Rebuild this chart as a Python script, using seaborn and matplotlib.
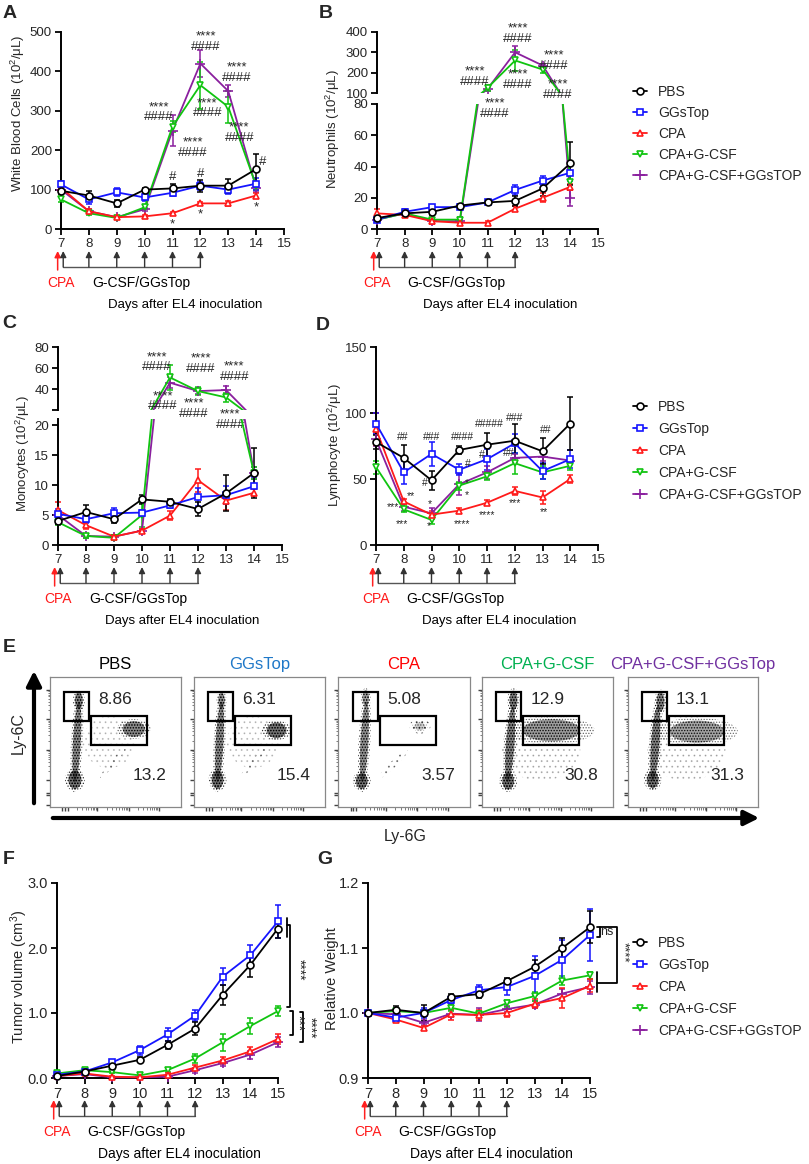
import matplotlib
matplotlib.use('Agg')
import numpy as np
import pandas as pd
import matplotlib.pyplot as plt
import matplotlib.transforms as mtransforms
from matplotlib.lines import Line2D
from matplotlib.patches import Rectangle, Ellipse
import seaborn as sns

# Grupper och stil
GROUPS = ['PBS', 'GGsTop', 'CPA', 'CPA+G-CSF', 'CPA+G-CSF+GGsTOP']
COLORS = {'PBS': '#000000', 'GGsTop': '#1515ff', 'CPA': '#ff1a1a',
          'CPA+G-CSF': '#10c410', 'CPA+G-CSF+GGsTOP': '#8a1f9e'}
MARKERS = {'PBS': 'o', 'GGsTop': 's', 'CPA': '^', 'CPA+G-CSF': 'v', 'CPA+G-CSF+GGsTOP': '+'}
DRAW_ORDER = ['CPA+G-CSF+GGsTOP', 'CPA+G-CSF', 'CPA', 'GGsTop', 'PBS']

DAYS_BLOOD = [7, 8, 9, 10, 11, 12, 13, 14]
DAYS_TUMOR = [7, 8, 9, 10, 11, 12, 13, 14, 15]
TREAT_DAYS = [7, 8, 9, 10, 11, 12]
CPA_DAY = 7

# A - vita blodkroppar
wbc_pbs = [97, 85, 65, 100, 103, 110, 110, 152]
wbc_gg = [113, 75, 93, 80, 92, 110, 100, 115]
wbc_cpa = [105, 45, 30, 32, 40, 65, 65, 85]
wbc_gcsf = [75, 40, 28, 55, 260, 365, 310, 110]
wbc_gcsf_gg = [100, 45, 30, 50, 250, 420, 350, 105]
wbc_pbs_err = [8, 12, 8, 5, 10, 15, 18, 38]
wbc_gg_err = [10, 12, 10, 8, 8, 10, 10, 15]
wbc_cpa_err = [5, 5, 3, 4, 4, 4, 6, 6]
wbc_gcsf_err = [6, 4, 3, 5, 15, 60, 40, 10]
wbc_gcsf_gg_err = [5, 5, 3, 4, 40, 35, 15, 10]

# B - neutrofiler
neu_pbs = [7, 10, 11, 15, 17, 18, 26, 42]
neu_gg = [6, 11, 14, 14, 17, 25, 31, 36]
neu_cpa = [10, 9, 5, 4, 4, 13, 20, 27]
neu_gcsf = [6, 10, 6, 6, 125, 260, 215, 30]
neu_gcsf_gg = [6, 10, 5, 5, 120, 300, 235, 20]
neu_pbs_err = [2, 1.5, 2, 1, 1, 3, 5, 14]
neu_gg_err = [1.5, 1.5, 1.5, 1.5, 1, 3, 3, 5]
neu_cpa_err = [3, 1.5, 1.5, 1.5, 1, 1.5, 3, 2]
neu_gcsf_err = [1, 1, 1, 1.5, 15, 50, 15, 5]
neu_gcsf_gg_err = [1, 1, 1, 1, 10, 30, 10, 5]

# C - monocyter
mon_pbs = [4, 5.5, 4.3, 7.6, 7.2, 6, 8.6, 12]
mon_gg = [5.2, 4.3, 5.3, 5.4, 6.6, 8, 8.3, 9.8]
mon_cpa = [5.8, 3.3, 1.4, 2.4, 4.9, 10.8, 7.4, 8.7]
mon_gcsf = [3.8, 1.5, 1.2, 5, 51, 38, 32, 12]
mon_gcsf_gg = [5, 1.5, 1.4, 2.4, 46, 38, 39, 12]
mon_pbs_err = [0.5, 1.1, 0.6, 0.8, 0.5, 1.2, 3, 4.2]
mon_gg_err = [0.8, 0.6, 0.8, 0.5, 0.5, 1.5, 1.5, 1.5]
mon_cpa_err = [1.3, 0.6, 0.3, 0.3, 0.8, 1.9, 1.5, 0.6]
mon_gcsf_err = [0.4, 0.3, 0.3, 2, 12, 4, 4, 1]
mon_gcsf_gg_err = [0.4, 0.3, 0.3, 0.3, 5, 3, 4, 1]

# D - lymfocyter
lym_pbs = [78, 66, 49, 72, 76, 79, 71, 92]
lym_gg = [92, 55, 69, 57, 65, 77, 56, 65]
lym_cpa = [88, 33, 23, 26, 32, 41, 36, 50]
lym_gcsf = [59, 27, 19, 45, 52, 62, 55, 60]
lym_gcsf_gg = [80, 29, 24, 46, 55, 66, 67, 64]
lym_pbs_err = [5, 10, 7, 3, 9, 13, 10, 20]
lym_gg_err = [8, 9, 9, 4, 8, 7, 6, 7]
lym_cpa_err = [12, 2, 3, 2, 2, 3, 5, 3]
lym_gcsf_err = [5, 2, 3, 3, 3, 8, 5, 3]
lym_gcsf_gg_err = [5, 3, 4, 8, 5, 3, 3, 3]

# F - tumörvolym
tum_pbs = [0.03, 0.10, 0.19, 0.28, 0.51, 0.76, 1.28, 1.74, 2.30]
tum_gg = [0.05, 0.10, 0.24, 0.43, 0.67, 0.96, 1.56, 1.89, 2.41]
tum_cpa = [0.03, 0.07, 0.02, 0.01, 0.05, 0.16, 0.27, 0.41, 0.60]
tum_gcsf = [0.07, 0.12, 0.09, 0.04, 0.12, 0.30, 0.55, 0.80, 1.03]
tum_gcsf_gg = [0.03, 0.06, 0.01, 0.01, 0.02, 0.12, 0.23, 0.36, 0.55]
tum_pbs_err = [0.02, 0.03, 0.03, 0.04, 0.06, 0.10, 0.15, 0.18, 0.15]
tum_gg_err = [0.02, 0.03, 0.04, 0.07, 0.10, 0.08, 0.13, 0.15, 0.25]
tum_cpa_err = [0.01, 0.02, 0.01, 0.01, 0.02, 0.04, 0.05, 0.06, 0.07]
tum_gcsf_err = [0.02, 0.03, 0.02, 0.02, 0.03, 0.07, 0.13, 0.12, 0.08]
tum_gcsf_gg_err = [0.01, 0.02, 0.01, 0.01, 0.02, 0.04, 0.05, 0.06, 0.08]

# G - relativ vikt
wt_pbs = [1.0, 1.005, 1.0, 1.025, 1.029, 1.049, 1.071, 1.10, 1.132]
wt_gg = [1.0, 0.993, 1.0, 1.02, 1.035, 1.04, 1.057, 1.082, 1.12]
wt_cpa = [1.0, 0.99, 0.977, 0.998, 0.997, 1.0, 1.014, 1.023, 1.042]
wt_gcsf = [1.0, 1.003, 1.0, 1.008, 0.999, 1.015, 1.026, 1.05, 1.058]
wt_gcsf_gg = [1.0, 0.998, 0.985, 0.999, 0.997, 1.006, 1.013, 1.03, 1.04]
wt_pbs_err = [0, 0.006, 0.012, 0.004, 0.006, 0.005, 0.01, 0.015, 0.025]
wt_gg_err = [0, 0.004, 0.008, 0.006, 0.008, 0.012, 0.03, 0.03, 0.04]
wt_cpa_err = [0, 0.004, 0.003, 0.008, 0.008, 0.006, 0.007, 0.015, 0.01]
wt_gcsf_err = [0, 0.004, 0.005, 0.005, 0.003, 0.005, 0.007, 0.007, 0.005]
wt_gcsf_gg_err = [0, 0.003, 0.004, 0.005, 0.01, 0.005, 0.006, 0.007, 0.01]

# E - flödescytometri
FLOW_TITLES = ['PBS', 'GGsTop', 'CPA', 'CPA+G-CSF', 'CPA+G-CSF+GGsTop']
FLOW_TITLE_COLORS = ['#000000', '#1f78c8', '#ff0000', '#00b050', '#7030a0']
FLOW_UPPER = ['8.86', '6.31', '5.08', '12.9', '13.1']
FLOW_LOWER = ['13.2', '15.4', '3.57', '30.8', '31.3']
# populationer: (cx, cy, bredd, höjd, vinkel, täthet, typ) - 'c' tät kärna, 's' glest moln
FLOW_POPS = [
    [(0.19, 0.21, 0.10, 0.14, 0, 1.0, 'c'), (0.205, 0.50, 0.06, 0.62, -3, 0.85, 'c'),
     (0.22, 0.82, 0.06, 0.13, 0, 0.9, 'c'), (0.64, 0.60, 0.17, 0.12, 0, 0.85, 'c'),
     (0.48, 0.34, 0.30, 0.04, 50, 0.5, 's'), (0.45, 0.50, 0.40, 0.40, 0, 0.25, 's')],
    [(0.18, 0.21, 0.09, 0.14, 0, 1.0, 'c'), (0.195, 0.50, 0.06, 0.62, -3, 0.85, 'c'),
     (0.21, 0.82, 0.05, 0.12, 0, 0.8, 'c'), (0.63, 0.59, 0.15, 0.12, 0, 1.0, 'c'),
     (0.45, 0.34, 0.30, 0.04, 50, 0.5, 's'), (0.45, 0.50, 0.40, 0.40, 0, 0.25, 's')],
    [(0.18, 0.20, 0.09, 0.12, 0, 1.0, 'c'), (0.20, 0.50, 0.06, 0.62, -3, 0.8, 'c'),
     (0.21, 0.84, 0.05, 0.12, 0, 0.7, 'c'), (0.62, 0.62, 0.16, 0.11, 0, 0.8, 's'),
     (0.62, 0.62, 0.08, 0.06, 0, 0.35, 'c'), (0.42, 0.33, 0.30, 0.05, 45, 0.6, 's')],
    [(0.20, 0.20, 0.09, 0.13, 0, 1.0, 'c'), (0.215, 0.48, 0.065, 0.58, -4, 0.9, 'c'),
     (0.24, 0.82, 0.06, 0.15, 0, 0.95, 'c'), (0.53, 0.59, 0.44, 0.17, 0, 0.7, 'c'),
     (0.45, 0.45, 0.60, 0.50, 0, 0.3, 's')],
    [(0.19, 0.21, 0.09, 0.13, 0, 1.0, 'c'), (0.21, 0.49, 0.065, 0.58, -4, 0.9, 'c'),
     (0.25, 0.81, 0.06, 0.15, 0, 0.9, 'c'), (0.53, 0.58, 0.42, 0.17, 0, 0.65, 'c'),
     (0.45, 0.45, 0.60, 0.50, 0, 0.3, 's')],
]

W, H = 809, 1164

sns.set_theme(style='ticks')
plt.rcParams['font.family'] = ['Liberation Sans', 'DejaVu Sans']
plt.rcParams['mathtext.fontset'] = 'custom'
plt.rcParams['mathtext.rm'] = 'Liberation Sans'
plt.rcParams['mathtext.default'] = 'regular'
plt.rcParams['hatch.linewidth'] = 0.6

fig = plt.figure(figsize=(W / 100, H / 100), dpi=100)
fig.patch.set_facecolor('white')

# overlay i pixelkoordinater för text och pilar
over = fig.add_axes([0, 0, 1, 1])
over.set_xlim(0, W)
over.set_ylim(H, 0)
over.axis('off')


def add_ax(l, t, r, b):
    return fig.add_axes([l / W, 1 - b / H, (r - l) / W, (b - t) / H])


def series(p, s, c, gc, gcg):
    return dict(zip(GROUPS, [p, s, c, gc, gcg]))


def draw_lines(ax, days, means, errs, clip=None):
    for g in DRAW_ORDER:
        c = COLORS[g]
        ms = 7 if g == 'CPA+G-CSF+GGsTOP' else 5
        sns.lineplot(x=days, y=means[g], ax=ax, color=c, marker=MARKERS[g],
                     markersize=ms, mfc='white', mec=c, mew=1.2, linewidth=1.3,
                     errorbar=None, legend=False, sort=False)
        line = ax.lines[-1]
        line.set_zorder(3)
        eb = ax.errorbar(days, means[g], yerr=errs[g], fmt='none', ecolor=c,
                         elinewidth=1.1, capsize=2.5, capthick=1.1, zorder=2)
        arts = [line] + list(eb.lines[1]) + list(eb.lines[2])
        for a in arts:
            if clip is None:
                a.set_clip_on(False)
            else:
                rect = Rectangle((-0.06, clip[0]), 1.12, clip[1] - clip[0], transform=ax.transAxes)
                a.set_clip_path(rect)


def style_ax(ax, ylim, yticks, ylabels=None, size=9.5, show_x=True, fmt=None):
    ax.set_xlim(7, 15)
    ax.set_ylim(*ylim)
    for s in ['top', 'right']:
        ax.spines[s].set_visible(False)
    for s in ['left', 'bottom']:
        ax.spines[s].set_linewidth(1.4)
        ax.spines[s].set_color('black')
    ax.set_facecolor('none')
    ax.tick_params(length=4.5, width=1.3, labelsize=size, pad=2, color='black', direction='out')
    ax.set_xticks(range(7, 16))
    ax.set_yticks(yticks)
    if ylabels is not None:
        ax.set_yticklabels(ylabels)
    elif fmt is not None:
        ax.set_yticklabels([fmt % v for v in yticks])
    if not show_x:
        ax.spines['bottom'].set_visible(False)
        ax.tick_params(axis='x', bottom=False, labelbottom=False)
    ax.set_xlabel('')
    ax.set_ylabel('')


def schedule(ax, yb, days_size=9.5):
    tr = mtransforms.blended_transform_factory(ax.transData, over.transData)
    tip, base = yb + 22, yb + 38
    over.annotate('', xy=(CPA_DAY - 0.12, tip), xytext=(CPA_DAY - 0.12, base + 3),
                  xycoords=tr, textcoords=tr,
                  arrowprops=dict(arrowstyle='-|>', color='#ff2020', lw=1.1, mutation_scale=9,
                                  shrinkA=0, shrinkB=0))
    for i, d in enumerate(TREAT_DAYS):
        x = d + 0.08 if i == 0 else d
        over.annotate('', xy=(x, tip), xytext=(x, base), xycoords=tr, textcoords=tr,
                      arrowprops=dict(arrowstyle='-|>', color='#333333', lw=1.0,
                                      mutation_scale=9, shrinkA=0, shrinkB=0))
    over.plot([TREAT_DAYS[0] + 0.08, TREAT_DAYS[-1]], [base, base], transform=tr,
              color='#555555', lw=1.0, clip_on=False)
    over.text(7.0, yb + 54, 'CPA', transform=tr, color='#ff1a1a', fontsize=10,
              ha='center', va='center')
    over.text(9.87, yb + 54, 'G-CSF/GGsTop', transform=tr, color='black', fontsize=10,
              ha='center', va='center')
    over.text(11.45, yb + 76, 'Days after EL4 inoculation', transform=tr, color='black',
              fontsize=days_size, ha='center', va='center')


def annot(ax, items, size=9.5, ls=0.8):
    # stjärnor och brädgårdar staplade i en och samma text
    for s, x, y in items:
        ax.text(x, y, s, ha='center', va='center', fontsize=size, clip_on=False,
                linespacing=ls)


def legend(ax, x, y, spacing):
    handles = [Line2D([], [], color=COLORS[g], marker=MARKERS[g], mfc='white', mec=COLORS[g],
                      mew=1.2, lw=1.3, ms=7 if g == 'CPA+G-CSF+GGsTOP' else 5) for g in GROUPS]
    ax.legend(handles, GROUPS, loc='upper left', bbox_to_anchor=(x / W, 1 - y / H),
              bbox_transform=fig.transFigure, frameon=False, fontsize=10, handlelength=1.0,
              handletextpad=0.8, labelspacing=spacing, borderpad=0, borderaxespad=0)


def ylab(x, y, s, size=9.5):
    over.text(x, y, s, rotation=90, ha='center', va='center', fontsize=size)


UNIT = ' (10$^2$/μL)'
SH = '****\n####'

# ---- A ----
axA = add_ax(61, 32, 284, 229)
draw_lines(axA, DAYS_BLOOD, series(wbc_pbs, wbc_gg, wbc_cpa, wbc_gcsf, wbc_gcsf_gg),
           series(wbc_pbs_err, wbc_gg_err, wbc_cpa_err, wbc_gcsf_err, wbc_gcsf_gg_err))
style_ax(axA, (0, 500), [0, 100, 200, 300, 400, 500])
ylab(18, 113, 'White Blood Cells' + UNIT)
schedule(axA, 229)
annot(axA, [(SH, 10.5, 296), (SH, 11.72, 206), (SH, 12.2, 476), (SH, 12.25, 307),
            (SH, 13.3, 396), (SH, 13.4, 245),
            ('#', 11.0, 132), ('#', 12.0, 140), ('#', 14.25, 170),
            ('*', 11.0, 12), ('*', 12.0, 37), ('*', 14.0, 55)])

# ---- B (bruten axel) ----
neu_m = series(neu_pbs, neu_gg, neu_cpa, neu_gcsf, neu_gcsf_gg)
neu_e = series(neu_pbs_err, neu_gg_err, neu_cpa_err, neu_gcsf_err, neu_gcsf_gg_err)
axB1 = add_ax(377, 32, 598, 93)
axB2 = add_ax(377, 104, 598, 229)
draw_lines(axB1, DAYS_BLOOD, neu_m, neu_e, clip=(0, 1.2))
draw_lines(axB2, DAYS_BLOOD, neu_m, neu_e, clip=(-0.1, 1))
style_ax(axB1, (100, 400), [100, 200, 300, 400], show_x=False)
style_ax(axB2, (0, 80), [0, 20, 40, 60, 80])
ylab(333, 129, 'Neutrophils' + UNIT)
schedule(axB2, 229)
legend(axB2, 633, 85, 0.5)
annot(axB1, [(SH, 10.55, 180), (SH, 12.1, 393), (SH, 12.1, 164), (SH, 13.4, 260),
             (SH, 13.55, 117)])
annot(axB2, [(SH, 11.27, 77)])

# ---- C (bruten axel) ----
mon_m = series(mon_pbs, mon_gg, mon_cpa, mon_gcsf, mon_gcsf_gg)
mon_e = series(mon_pbs_err, mon_gg_err, mon_cpa_err, mon_gcsf_err, mon_gcsf_gg_err)
axC1 = add_ax(58, 347, 282, 410)
axC2 = add_ax(58, 419, 282, 545)
draw_lines(axC1, DAYS_BLOOD, mon_m, mon_e, clip=(0, 1.2))
draw_lines(axC2, DAYS_BLOOD, mon_m, mon_e, clip=(-0.1, 1))
style_ax(axC1, (20, 80), [20, 40, 60, 80], ylabels=['', '40', '60', '80'], show_x=False)
style_ax(axC2, (0, 21), [0, 5, 10, 15, 20])
ylab(23, 454, 'Monocytes' + UNIT)
schedule(axC2, 545)
annot(axC1, [(SH, 10.54, 65.5), (SH, 10.75, 28.5), (SH, 12.1, 64), (SH, 11.85, 21),
             (SH, 13.3, 56.5), (SH, 13.15, 10.5)])

# ---- D ----
axD = add_ax(376, 347, 598, 545)
draw_lines(axD, DAYS_BLOOD, series(lym_pbs, lym_gg, lym_cpa, lym_gcsf, lym_gcsf_gg),
           series(lym_pbs_err, lym_gg_err, lym_cpa_err, lym_gcsf_err, lym_gcsf_gg_err))
style_ax(axD, (0, 150), [0, 50, 100, 150])
ylab(335, 445, 'Lymphocyte' + UNIT)
schedule(axD, 545)
legend(axD, 633, 400, 0.58)
annot(axD, [('##', 7.97, 82), ('###', 9.0, 82), ('####', 10.1, 82), ('#####', 11.1, 92),
            ('###', 12.0, 96), ('##', 13.1, 87), ('#', 8.75, 47), ('#', 10.3, 61),
            ('#', 10.8, 68), ('##', 11.8, 70),
            ('**', 8.25, 37), ('***', 7.6, 29), ('***', 7.95, 16), ('*', 8.95, 31), ('*', 8.9, 14),
            ('*', 10.28, 47), ('*', 10.28, 38), ('****', 10.1, 16), ('****', 11.0, 23),
            ('***', 12.0, 32), ('**', 13.05, 25)], size=7.5)

# ---- E ----
FLOW_BOXES = [(50, 181), (194, 325), (338, 470), (482, 613), (628, 758)]
for i, (l, r) in enumerate(FLOW_BOXES):
    ax = add_ax(l, 677, r, 807)
    ax.set_xlim(0, 1)
    ax.set_ylim(0, 1)
    ax.set_facecolor('white')
    for s in ax.spines.values():
        s.set_color('#888888')
        s.set_linewidth(0.9)
    for cx, cy, w, h, ang, dens, kind in FLOW_POPS[i]:
        if kind == 's':
            ax.add_patch(Ellipse((cx, cy), w, h, angle=ang, fc='none',
                                 ec=(0.2, 0.2, 0.2, dens), hatch='...', lw=0))
            continue
        ax.add_patch(Ellipse((cx, cy), w * 1.5, h * 1.25, angle=ang, fc='none',
                             ec=(0, 0, 0, min(1, dens * 0.8)), hatch='......', lw=0))
        ax.add_patch(Ellipse((cx, cy), w, h, angle=ang, fc=(0.08, 0.08, 0.08, dens * 0.6), lw=0))
        ax.add_patch(Ellipse((cx, cy), w, h, angle=ang, fc='none', ec=(0, 0, 0, dens),
                             hatch='......', lw=0))
    ax.add_patch(Rectangle((0.11, 0.665), 0.19, 0.22, fc='none', ec='black', lw=1.6))
    ax.add_patch(Rectangle((0.315, 0.477), 0.425, 0.223, fc='none', ec='black', lw=1.6))
    ax.text(0.50, 0.83, FLOW_UPPER[i], fontsize=12.5, ha='center', va='center')
    ax.text(0.76, 0.24, FLOW_LOWER[i], fontsize=12.5, ha='center', va='center')
    ymaj = [0.013, 0.09, 0.105, 0.206, 0.44, 0.675, 0.90]
    ax.set_yticks(ymaj)
    ax.set_yticks([a + (b - a) * np.log10(k) for a, b in [(0.206, 0.44), (0.44, 0.675), (0.675, 0.9)]
                   for k in range(2, 10)], minor=True)
    xmaj = [0.095, 0.115, 0.14, 0.36, 0.6, 0.83]
    ax.set_xticks(xmaj)
    ax.set_xticks([a + (b - a) * np.log10(k) for a, b in [(0.14, 0.36), (0.36, 0.6), (0.6, 0.83)]
                   for k in range(2, 10)], minor=True)
    ax.tick_params(which='major', length=3, width=1.0, color='#444444', labelleft=False, labelbottom=False)
    ax.tick_params(which='minor', length=1.8, width=0.6, color='#666666')
    ax.set_title(FLOW_TITLES[i], color=FLOW_TITLE_COLORS[i], fontsize=12, pad=6)

over.annotate('', xy=(34, 668), xytext=(34, 806),
              arrowprops=dict(arrowstyle='-|>', color='black', lw=3, mutation_scale=22))
over.annotate('', xy=(762, 818), xytext=(50, 818),
              arrowprops=dict(arrowstyle='-|>', color='black', lw=3, mutation_scale=22))
over.text(18, 733, 'Ly-6C', rotation=90, ha='center', va='center', fontsize=11.5)
over.text(405, 836, 'Ly-6G', ha='center', va='center', fontsize=11.5)

# ---- F ----
axF = add_ax(57, 883, 278, 1078)
draw_lines(axF, DAYS_TUMOR, series(tum_pbs, tum_gg, tum_cpa, tum_gcsf, tum_gcsf_gg),
           series(tum_pbs_err, tum_gg_err, tum_cpa_err, tum_gcsf_err, tum_gcsf_gg_err))
style_ax(axF, (0, 3), [0, 1, 2, 3], size=10.5, fmt='%.1f')
ylab(19, 977, 'Tumor volume (cm$^3$)', size=10.5)
schedule(axF, 1078, days_size=10)
kw = dict(color='black', lw=1.3, clip_on=False)
axF.plot([15.33, 15.33], [2.46, 2.17], **kw)
axF.plot([15.33, 15.44, 15.44, 15.33], [2.35, 2.35, 1.09, 1.09], **kw)
axF.plot([15.45, 15.55, 15.55, 15.45], [1.03, 1.03, 0.66, 0.66], **kw)
axF.plot([15.8, 15.9, 15.9, 15.8], [1.02, 1.02, 0.55, 0.55], **kw)
axF.text(15.75, 1.66, '****', rotation=270, ha='center', va='center', fontsize=10, clip_on=False)
axF.text(15.71, 0.84, '***', rotation=270, ha='center', va='center', fontsize=10, clip_on=False)
axF.text(16.15, 0.78, '****', rotation=270, ha='center', va='center', fontsize=10, clip_on=False)

# ---- G ----
axG = add_ax(368, 883, 590, 1078)
draw_lines(axG, DAYS_TUMOR, series(wt_pbs, wt_gg, wt_cpa, wt_gcsf, wt_gcsf_gg),
           series(wt_pbs_err, wt_gg_err, wt_cpa_err, wt_gcsf_err, wt_gcsf_gg_err))
style_ax(axG, (0.9, 1.2), [0.9, 1.0, 1.1, 1.2], size=10.5, fmt='%.1f')
ylab(332, 979, 'Relative Weight', size=10.5)
schedule(axG, 1078, days_size=10)
legend(axG, 633, 936, 0.58)
axG.plot([15.25, 15.36, 15.36, 15.25], [1.132, 1.132, 1.117, 1.117], **kw)
axG.text(15.62, 1.125, 'ns', ha='center', va='center', fontsize=9, clip_on=False)
axG.plot([15.36, 15.97, 15.97, 15.25], [1.132, 1.132, 1.046, 1.046], **kw)
axG.plot([15.25, 15.25], [1.063, 1.032], **kw)
axG.text(16.2, 1.094, '****', rotation=270, ha='center', va='center', fontsize=9.5, clip_on=False)

# panelbokstäver
for s, x, y in [('A', 10, 13), ('B', 326, 13), ('C', 9, 324), ('D', 323, 325),
                ('E', 9, 647), ('F', 9, 860), ('G', 325, 860)]:
    over.text(x, y, s, fontsize=14, fontweight='bold', ha='center', va='center')

fig.savefig('out.png', dpi=100, facecolor='white')
